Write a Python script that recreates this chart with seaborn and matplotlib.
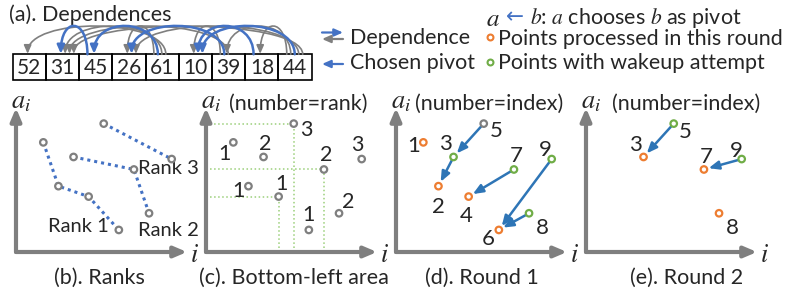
import numpy as np
import pandas as pd
import matplotlib
matplotlib.use("Agg")
import matplotlib.pyplot as plt
from matplotlib.patches import Rectangle, FancyArrowPatch
from matplotlib.path import Path
import seaborn as sns

sns.set_theme(style="white")
plt.rcParams['font.family'] = ['Lato', 'DejaVu Sans']
plt.rcParams['mathtext.fontset'] = 'stix'

# --- data -------------------------------------------------------------
values = [52, 31, 45, 26, 61, 10, 39, 18, 44]      # a_i for i = 1..9
x_pos = [1, 2, 3, 4, 5, 6, 7, 8, 9.5]              # horizontal place of point i
pivot_pairs = [(2, 3), (3, 5), (4, 7), (6, 8), (6, 9)]   # a <- b
guide_points = [5, 7, 4]                            # bottom-left areas in (c)

round1_points = [1, 2, 3, 4, 5, 6, 7, 8, 9]
round1_status = ['done', 'done', 'wake', 'done', 'idle', 'done', 'wake', 'wake', 'wake']
round1_arrows = [(3, 5), (2, 3), (4, 7), (6, 9), (6, 8)]
round2_points = [3, 5, 7, 8, 9]
round2_status = ['done', 'wake', 'done', 'done', 'wake']
round2_arrows = [(3, 5), (7, 9)]

# ranks (longest increasing chain ending at i) and dependences
n = len(values)
ranks = []
for j in range(n):
    r = [ranks[i] for i in range(j) if values[i] < values[j]]
    ranks.append(1 + max(r) if r else 1)
depends = [(i, j) for j in range(n) for i in range(j) if values[i] < values[j]]

# --- style ------------------------------------------------------------
GRAY = '#7F7F7F'
BLUE = '#4472C4'
ARROW_BLUE = '#2E75B6'
ORANGE = '#ED7D31'
GREEN = '#70AD47'
LIGHT_GREEN = '#9BCF7A'
status_colors = {'done': ORANGE, 'wake': GREEN, 'idle': GRAY}

FS = 15.5        # legend / title text
FS_BOX = 15      # numbers in the array
FS_RANK = 14.5   # "Rank k"
FS_NUM = 16      # point numbers
FS_CAP = 15.5    # captions
FS_MATH = 19

W, H = 799, 292
fig = plt.figure(figsize=(W / 100, H / 100), dpi=100)

# overlay axes in pixel units for free text
ax_fig = fig.add_axes([0, 0, 1, 1])
ax_fig.set_xlim(0, W)
ax_fig.set_ylim(H, 0)
ax_fig.axis('off')

# --- (a) dependences ----------------------------------------------------
ax_fig.text(9, 15, '(a). Dependences', fontsize=FS, ha='left', va='center')

cell_w = 33.22
ax_a = fig.add_axes([12.7 / W, 1 - 82 / H, 9 * cell_w / W, 64 / H])
ax_a.set_xlim(0, 9)
ax_a.set_ylim(-2 / 25.7, 62 / 25.7)
ax_a.axis('off')
for k, v in enumerate(values):
    ax_a.add_patch(Rectangle((k, 0), 1, 1, fill=False, ec='black', lw=1.2, clip_on=False))
    ax_a.text(k + 0.5, 0.45, str(v), ha='center', va='center', fontsize=FS_BOX)

hc = 1.45
for i, j in depends:
    ends = sorted([p for p in depends if p[0] == i], key=lambda p: p[1] - p[0])
    starts = sorted([p for p in depends if p[1] == j], key=lambda p: p[1] - p[0])
    xe = i + 0.45 + 0.13 * ends.index((i, j))
    xs = j + 0.25 + 0.12 * starts.index((i, j))
    chosen = (i + 1, j + 1) in pivot_pairs
    verts = [(xs, 1), (xs, 1 + hc), (xe, 1 + hc), (xe, 1.02)]
    path = Path(verts, [Path.MOVETO, Path.CURVE4, Path.CURVE4, Path.CURVE4])
    arr = FancyArrowPatch(path=path, arrowstyle='-|>,head_length=0.5,head_width=0.22',
                          mutation_scale=10, color=BLUE if chosen else GRAY,
                          lw=1.8 if chosen else 1.2, zorder=3 if chosen else 2,
                          clip_on=False)
    ax_a.add_patch(arr)


# legend of (a)
def small_arrow(x0, x1, y, color):
    ax_fig.annotate('', xy=(x1, y), xytext=(x0, y),
                    arrowprops=dict(arrowstyle='-|>,head_length=0.5,head_width=0.22',
                                    mutation_scale=10, color=color, lw=1.6,
                                    shrinkA=0, shrinkB=0))


small_arrow(322, 343, 32.5, BLUE)
small_arrow(343, 322, 39, GRAY)
small_arrow(343, 322, 64, BLUE)
ax_fig.text(350, 38, 'Dependence', fontsize=FS, ha='left', va='center')
ax_fig.text(350, 63, 'Chosen pivot', fontsize=FS, ha='left', va='center')

# right legend
ax_fig.text(486, 18, '$a$', fontsize=FS_MATH - 1, ha='left', va='center')
ax_fig.text(506, 17, '\u2190', fontsize=FS, ha='left', va='center', color=BLUE,
            family='DejaVu Sans')
ax_fig.text(530, 18, '$b$: $a$ chooses $b$ as pivot', fontsize=FS, ha='left', va='center')
ax_fig.scatter([490], [37], s=18, facecolor='white', edgecolor=ORANGE, lw=1.5)
ax_fig.scatter([490], [62], s=18, facecolor='white', edgecolor=GREEN, lw=1.5)
ax_fig.text(498, 39, 'Points processed in this round', fontsize=FS, ha='left', va='center')
ax_fig.text(498, 63, 'Points with wakeup attempt', fontsize=FS, ha='left', va='center')

# --- panels (b)-(e) -------------------------------------------------------
SX, SY = 15.1, 2.085          # pixels per index / per value
I0, A0 = -0.81, -0.58
PW, PH = 180, 150


def make_panel(ox, oy):
    ax = fig.add_axes([ox / W, 1 - oy / H, PW / W, PH / H])
    ax.axis('off')
    style = '-|>,head_length=0.75,head_width=0.32'
    for tip in [(171 / PW, 0), (0, 144 / PH)]:
        ax.annotate('', xy=tip, xytext=(0, 0), xycoords='axes fraction',
                    arrowprops=dict(arrowstyle=style, mutation_scale=10, color=GRAY,
                                    lw=3, shrinkA=0, shrinkB=0))
    ax_fig.text(ox + 5, 102, '$a_i$', fontsize=FS_MATH, ha='center', va='center')
    ax_fig.text(ox + 178, oy + 2, '$i$', fontsize=FS_MATH, ha='center', va='center')
    return ax


def draw_points(ax, idx, status):
    df = pd.DataFrame({'x': [x_pos[k - 1] for k in idx],
                       'a': [values[k - 1] for k in idx],
                       'status': status})
    sns.scatterplot(data=df, x='x', y='a', hue='status', palette=status_colors,
                    s=22, linewidth=1.6, legend=False, ax=ax, zorder=4)
    coll = ax.collections[-1]
    coll.set_edgecolor(np.array(coll.get_facecolor()))
    coll.set_facecolor('white')
    ax.set_xlim(I0, I0 + PW / SX)
    ax.set_ylim(A0, A0 + PH / SY)


def label_points(ax, idx, texts, offsets, size):
    for k, t, (dx, dy) in zip(idx, texts, offsets):
        ax.annotate(t, xy=(x_pos[k - 1], values[k - 1]), xytext=(dx, -dy),
                    textcoords='offset pixels', ha='center', va='center', fontsize=size)


def pivot_arrows(ax, pairs):
    for a, b in pairs:
        ax.annotate('', xy=(x_pos[a - 1], values[a - 1]), xytext=(x_pos[b - 1], values[b - 1]),
                    arrowprops=dict(arrowstyle='-|>,head_length=0.6,head_width=0.25',
                                    mutation_scale=10, color=ARROW_BLUE, lw=1.8,
                                    shrinkA=3, shrinkB=3.5), zorder=3)


oy = 252
# (b) ranks
ax_b = make_panel(16, oy)
for r in sorted(set(ranks)):
    members = [k for k in range(n) if ranks[k] == r]
    ax_b.plot([x_pos[k] for k in members], [values[k] for k in members],
              ls=(0, (1, 1.3)), color=BLUE, lw=2.2, zorder=2)
draw_points(ax_b, round1_points, ['idle'] * n)
ax_fig.text(78, 227, 'Rank 1', fontsize=FS_RANK, ha='center', va='center')
ax_fig.text(138, 230, 'Rank 2', fontsize=FS_RANK, ha='left', va='center')
ax_fig.text(138, 168, 'Rank 3', fontsize=FS_RANK, ha='left', va='center')
ax_fig.text(99, 278, '(b). Ranks', fontsize=FS_CAP, ha='center', va='center')

# (c) bottom-left area
ax_c = make_panel(206, oy)
for k in guide_points:
    xg, yg = x_pos[k - 1], values[k - 1]
    ax_c.plot([I0, xg], [yg, yg], ls=':', color=LIGHT_GREEN, lw=1.1, zorder=1)
    ax_c.plot([xg, xg], [A0, yg], ls=':', color=LIGHT_GREEN, lw=1.1, zorder=1)
draw_points(ax_c, round1_points, ['idle'] * n)
rank_offsets = [(-9, 12), (-10, 5), (2, -13), (3, -13), (13, 6), (0, -15), (2, -14), (9, -11), (-4, -14)]
label_points(ax_c, round1_points, [str(r) for r in ranks], rank_offsets, FS_NUM - 0.5)
ax_fig.text(229, 104, '(number=rank)', fontsize=FS, ha='left', va='center')
ax_fig.text(294, 278, '(c). Bottom-left area', fontsize=FS_CAP, ha='center', va='center')

# (d) round 1
ax_d = make_panel(396, oy)
pivot_arrows(ax_d, round1_arrows)
draw_points(ax_d, round1_points, round1_status)
idx_offsets_d = [(-10, 4), (0, 21), (-8, -13), (-2, 19), (13, 7), (-11, 9), (2, -13), (13, 15), (-6, -9)]
label_points(ax_d, round1_points, [str(k) for k in round1_points], idx_offsets_d, FS_NUM)
ax_fig.text(415, 104, '(number=index)', fontsize=FS, ha='left', va='center')
ax_fig.text(482, 278, '(d). Round 1', fontsize=FS_CAP, ha='center', va='center')

# (e) round 2
ax_e = make_panel(586, oy)
pivot_arrows(ax_e, round2_arrows)
draw_points(ax_e, round2_points, round2_status)
idx_offsets_e = [(-8, -12), (12, 8), (2, -12), (13, 15), (-5, -8)]
label_points(ax_e, round2_points, [str(k) for k in round2_points], idx_offsets_e, FS_NUM)
ax_fig.text(612, 104, '(number=index)', fontsize=FS, ha='left', va='center')
ax_fig.text(687, 278, '(e). Round 2', fontsize=FS_CAP, ha='center', va='center')

fig.savefig('out.png', dpi=100)
